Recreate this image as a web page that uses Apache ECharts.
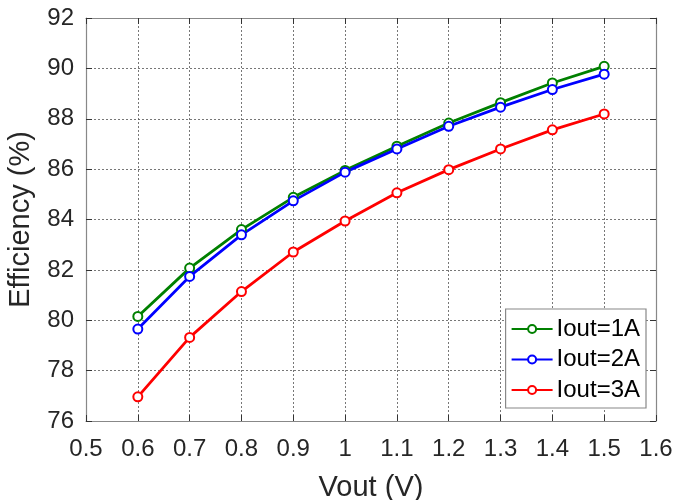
<!DOCTYPE html>
<html>
<head>
<meta charset="utf-8">
<script src="https://cdn.jsdelivr.net/npm/echarts@6/dist/echarts.min.js"></script>
<style>
  html, body { margin: 0; padding: 0; background: #fff; }
  #chart { width: 689px; height: 500px; }
</style>
</head>
<body>
<div id="chart"></div>
<script>
// Output voltage sweep (V)
const vout = [0.6, 0.7, 0.8, 0.9, 1.0, 1.1, 1.2, 1.3, 1.4, 1.5];
// Efficiency (%) at each load current
const eff1A = [80.15, 82.07, 83.60, 84.88, 85.95, 86.91, 87.83, 88.64, 89.42, 90.08];
const eff2A = [79.65, 81.74, 83.39, 84.74, 85.88, 86.80, 87.70, 88.46, 89.16, 89.77];
const eff3A = [76.96, 79.32, 81.14, 82.71, 83.94, 85.06, 85.98, 86.80, 87.56, 88.19];
const seriesNames = ['Iout=1A', 'Iout=2A', 'Iout=3A'];
const seriesColors = ['#008000', '#0000ff', '#ff0000'];

const font = 'Liberation Sans, Arial, sans-serif';
const chart = echarts.init(document.getElementById('chart'), null, { renderer: 'canvas' });

const pairs = arr => vout.map((v, i) => [v, arr[i]]);
const mkSeries = (name, arr, color) => ({
  name, type: 'line', data: pairs(arr),
  xAxisIndex: 0, yAxisIndex: 0,
  symbol: 'emptyCircle', symbolSize: 9,
  lineStyle: { width: 2.8, color },
  itemStyle: { color, borderWidth: 2 },
  z: 3
});

const gridLine = { show: true, lineStyle: { color: '#555', type: [2, 2], width: 0.8 } };
const frameLine = { show: true, lineStyle: { color: '#888', width: 1.2 } };
const tickIn = { show: true, inside: true, length: 6, lineStyle: { color: '#333', width: 1 } };
const labelStyle = { color: '#262626', fontSize: 24, fontFamily: font };

chart.setOption({
  animation: false,
  backgroundColor: '#fff',
  grid: { left: 86, right: 33, top: 18, bottom: 79, containLabel: false, outerBoundsMode: 'none' },
  legend: {
    right: 43, top: 309,
    orient: 'vertical',
    itemWidth: 41, itemHeight: 10, itemGap: 6.5,
    padding: [8, 6, 6, 5],
    backgroundColor: '#fff',
    borderColor: '#888', borderWidth: 1.2,
    textStyle: { color: '#000', fontSize: 24, lineHeight: 24, fontFamily: font, padding: [0, 0, 0, -1] },
    data: seriesNames
  },
  xAxis: [
    {
      type: 'value', min: 0.5, max: 1.6, interval: 0.1,
      name: 'Vout (V)', nameLocation: 'middle', nameGap: 52,
      nameTextStyle: { color: '#262626', fontSize: 29, fontFamily: font },
      axisLine: frameLine, axisTick: tickIn, splitLine: gridLine,
      axisLabel: Object.assign({ margin: 16, formatter: v => String(+v.toFixed(1)) }, labelStyle)
    },
    {
      type: 'value', position: 'top', min: 0.5, max: 1.6, interval: 0.1,
      axisLine: frameLine, axisTick: tickIn, splitLine: { show: false },
      axisLabel: { show: false }
    }
  ],
  yAxis: [
    {
      type: 'value', min: 76, max: 92, interval: 2,
      name: 'Efficiency (%)', nameLocation: 'middle', nameGap: 51,
      nameTextStyle: { color: '#262626', fontSize: 29, fontFamily: font },
      axisLine: frameLine, axisTick: tickIn, splitLine: gridLine,
      axisLabel: Object.assign({ margin: 12 }, labelStyle)
    },
    {
      type: 'value', position: 'right', min: 76, max: 92, interval: 2,
      axisLine: frameLine, axisTick: tickIn, splitLine: { show: false },
      axisLabel: { show: false }
    }
  ],
  series: [
    mkSeries(seriesNames[0], eff1A, seriesColors[0]),
    mkSeries(seriesNames[1], eff2A, seriesColors[1]),
    mkSeries(seriesNames[2], eff3A, seriesColors[2])
  ]
});
</script>
</body>
</html>
